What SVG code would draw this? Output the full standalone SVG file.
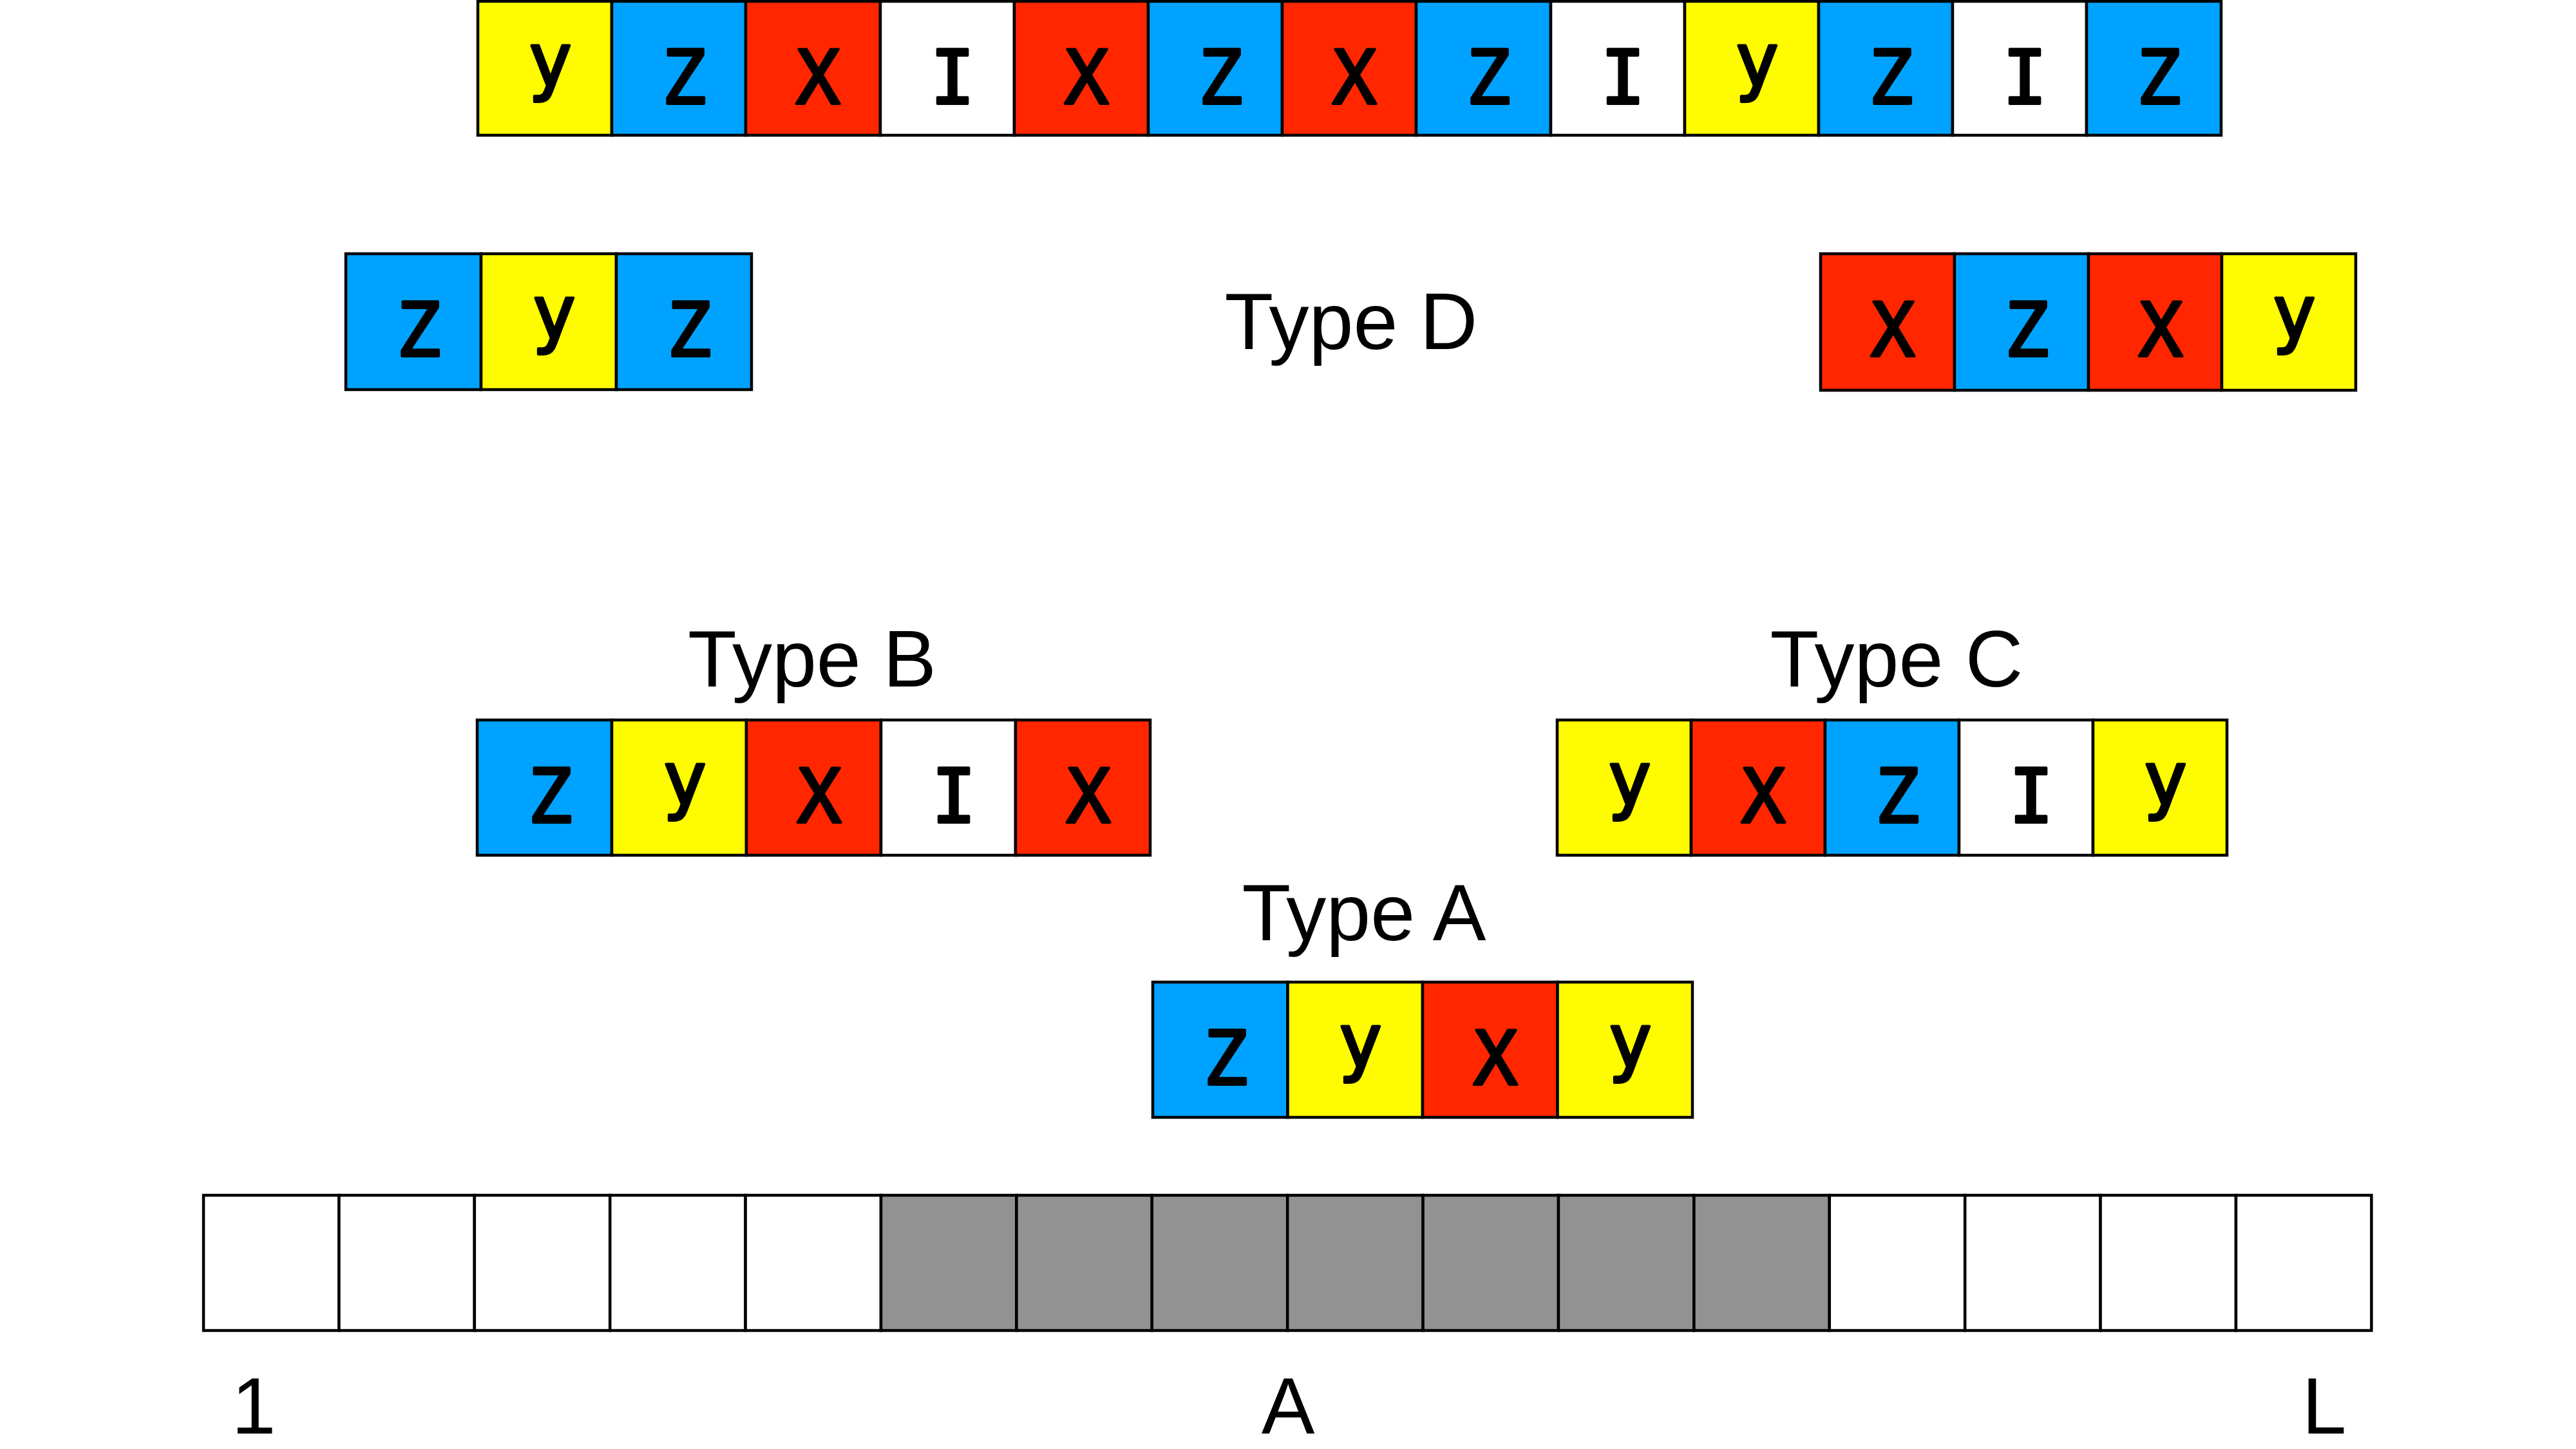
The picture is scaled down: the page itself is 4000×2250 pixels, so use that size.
<svg xmlns="http://www.w3.org/2000/svg" width="4000" height="2250" viewBox="0 0 4000 2250">
<style>
.c{stroke:#000;stroke-width:4.5}
.yel{fill:#FFFB00}.blu{fill:#00A2FF}.red{fill:#FF2600}.wht{fill:#FFFFFF}.gry{fill:#929292}
.l{font-family:"DejaVu Sans Mono","Liberation Mono",monospace;font-size:115px;text-anchor:middle;fill:#000;stroke:#000;stroke-width:4;stroke-linejoin:round}
.t{font-family:"Liberation Sans",Arial,sans-serif;font-size:124px;text-anchor:middle;fill:#000}
</style>
<rect width="4000" height="2250" fill="#FFFFFF"/>

<g id="top-row">
<rect class="c yel" x="742" y="2" width="208" height="208"/><text class="l" x="854" y="134">y</text>
<rect class="c blu" x="950" y="2" width="208" height="208"/><text class="l" x="1062" y="161">Z</text>
<rect class="c red" x="1158" y="2" width="209" height="208"/><text class="l" x="1270" y="161">X</text>
<rect class="c wht" x="1367" y="2" width="208" height="208"/><text class="l" x="1479" y="161">I</text>
<rect class="c red" x="1575" y="2" width="208" height="208"/><text class="l" x="1687" y="161">X</text>
<rect class="c blu" x="1783" y="2" width="208" height="208"/><text class="l" x="1895" y="161">Z</text>
<rect class="c red" x="1991" y="2" width="208" height="208"/><text class="l" x="2103" y="161">X</text>
<rect class="c blu" x="2199" y="2" width="209" height="208"/><text class="l" x="2311" y="161">Z</text>
<rect class="c wht" x="2408" y="2" width="208" height="208"/><text class="l" x="2520" y="161">I</text>
<rect class="c yel" x="2616" y="2" width="208" height="208"/><text class="l" x="2728" y="134">y</text>
<rect class="c blu" x="2824" y="2" width="208" height="208"/><text class="l" x="2936" y="161">Z</text>
<rect class="c wht" x="3032" y="2" width="208" height="208"/><text class="l" x="3144" y="161">I</text>
<rect class="c blu" x="3240" y="2" width="209" height="208"/><text class="l" x="3352" y="161">Z</text>
</g>

<g id="type-d-left">
<rect class="c blu" x="537" y="394" width="210" height="211"/><text class="l" x="650" y="553">Z</text>
<rect class="c yel" x="747" y="394" width="210" height="211"/><text class="l" x="860" y="526">y</text>
<rect class="c blu" x="957" y="394" width="210" height="211"/><text class="l" x="1070" y="553">Z</text>
</g>

<g id="type-d-label"><text class="t" x="2098" y="542">Type D</text></g>

<g id="type-d-right">
<rect class="c red" x="2827" y="394" width="208" height="212"/><text class="l" x="2939" y="553">X</text>
<rect class="c blu" x="3035" y="394" width="208" height="212"/><text class="l" x="3147" y="553">Z</text>
<rect class="c red" x="3243" y="394" width="207" height="212"/><text class="l" x="3355" y="553">X</text>
<rect class="c yel" x="3450" y="394" width="208" height="212"/><text class="l" x="3562" y="526">y</text>
</g>

<g id="type-b">
<text class="t" x="1261" y="1066">Type B</text>
<rect class="c blu" x="741" y="1118" width="209" height="210"/><text class="l" x="854" y="1277">Z</text>
<rect class="c yel" x="950" y="1118" width="209" height="210"/><text class="l" x="1063" y="1250">y</text>
<rect class="c red" x="1159" y="1118" width="209" height="210"/><text class="l" x="1272" y="1277">X</text>
<rect class="c wht" x="1368" y="1118" width="209" height="210"/><text class="l" x="1481" y="1277">I</text>
<rect class="c red" x="1577" y="1118" width="209" height="210"/><text class="l" x="1690" y="1277">X</text>
</g>

<g id="type-c">
<text class="t" x="2945" y="1066">Type C</text>
<rect class="c yel" x="2418" y="1118" width="208" height="210"/><text class="l" x="2530" y="1250">y</text>
<rect class="c red" x="2626" y="1118" width="208" height="210"/><text class="l" x="2738" y="1277">X</text>
<rect class="c blu" x="2834" y="1118" width="208" height="210"/><text class="l" x="2946" y="1277">Z</text>
<rect class="c wht" x="3042" y="1118" width="208" height="210"/><text class="l" x="3154" y="1277">I</text>
<rect class="c yel" x="3250" y="1118" width="208" height="210"/><text class="l" x="3362" y="1250">y</text>
</g>

<g id="type-a">
<text class="t" x="2118" y="1460">Type A</text>
<rect class="c blu" x="1790" y="1525" width="209.5" height="210"/><text class="l" x="1903" y="1684">Z</text>
<rect class="c yel" x="1999.5" y="1525" width="209.5" height="210"/><text class="l" x="2112" y="1657">y</text>
<rect class="c red" x="2209" y="1525" width="209.5" height="210"/><text class="l" x="2322" y="1684">X</text>
<rect class="c yel" x="2418.5" y="1525" width="209.5" height="210"/><text class="l" x="2531" y="1657">y</text>
</g>

<g id="sequence">
<rect class="c wht" x="316" y="1856" width="210.4" height="210"/>
<rect class="c wht" x="526.4" y="1856" width="210.4" height="210"/>
<rect class="c wht" x="736.8" y="1856" width="210.4" height="210"/>
<rect class="c wht" x="947.2" y="1856" width="210.4" height="210"/>
<rect class="c wht" x="1157.6" y="1856" width="210.4" height="210"/>
<rect class="c gry" x="1368" y="1856" width="210.4" height="210"/>
<rect class="c gry" x="1578.4" y="1856" width="210.4" height="210"/>
<rect class="c gry" x="1788.8" y="1856" width="210.4" height="210"/>
<rect class="c gry" x="1999.2" y="1856" width="210.4" height="210"/>
<rect class="c gry" x="2209.6" y="1856" width="210.4" height="210"/>
<rect class="c gry" x="2420" y="1856" width="210.4" height="210"/>
<rect class="c gry" x="2630.4" y="1856" width="210.4" height="210"/>
<rect class="c wht" x="2840.8" y="1856" width="210.4" height="210"/>
<rect class="c wht" x="3051.2" y="1856" width="210.4" height="210"/>
<rect class="c wht" x="3261.6" y="1856" width="210.4" height="210"/>
<rect class="c wht" x="3472" y="1856" width="210.4" height="210"/>
<text class="t" x="394" y="2226">1</text>
<text class="t" x="2000" y="2226">A</text>
<text class="t" x="3609" y="2226">L</text>
</g>

<g id="connectors"/>
</svg>
